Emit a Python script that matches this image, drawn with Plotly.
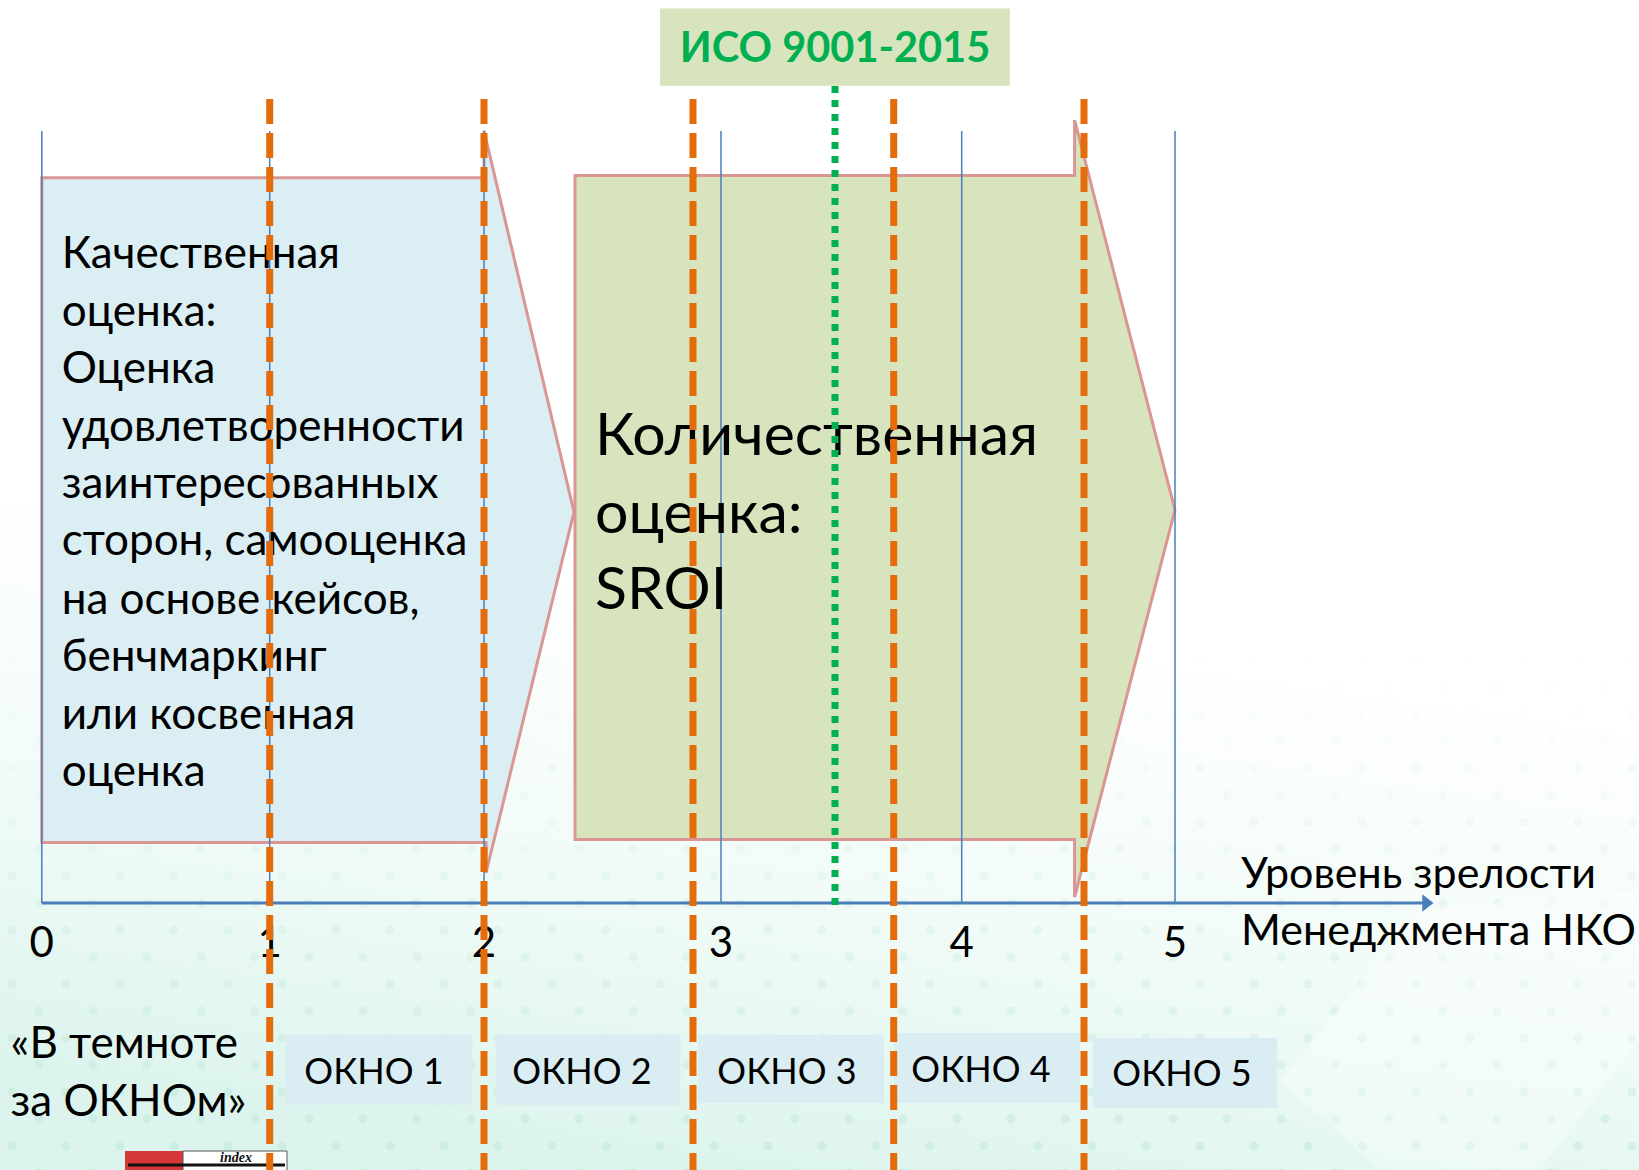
import base64
import plotly.graph_objects as go

W, H = 1639, 1170

# ---------------- content ----------------
levels = ["0", "1", "2", "3", "4", "5"]
window_labels = ["ОКНО 1", "ОКНО 2", "ОКНО 3", "ОКНО 4", "ОКНО 5"]
qual_lines = ["Качественная", "оценка:", "Оценка", "удовлетворенности",
              "заинтересованных", "сторон, самооценка", "на основе кейсов,",
              "бенчмаркинг", "или косвенная", "оценка"]
quant_lines = ["Количественная", "оценка:", "SROI"]
axis_title_lines = ["Уровень зрелости", "Менеджмента НКО"]
dark_lines = ["«В темноте", "за ОКНОм»"]
standard_label = "ИСО 9001-2015"

# ---------------- geometry (pixels) ----------------
level_x = [41.8, 269.7, 484, 721, 961.7, 1175]
axis_y = 903
level_top = 131
tick_y = 946
border_x = [269.7, 484, 693, 893.7, 1084]
iso_x = 835
window_x = [374, 582, 787, 981, 1182]
window_y = [1075, 1075, 1075, 1073, 1077]
window_boxes = [(285, 472.5, 1035, 1105), (495.5, 680.5, 1035, 1105),
                (698, 884, 1035, 1103), (893.7, 1080, 1033, 1103),
                (1093, 1277, 1038, 1108)]
qual_y = [257, 314.5, 372, 429.5, 487, 544.4, 603, 660, 718, 775.4]
quant_y = [440, 518, 594]

FONT = "Lato, 'Open Sans', sans-serif"
BLUE = "#4A7EBB"
PINK = "#D99694"
ORANGE = "#E46C0A"
GREEN = "#00B050"
LBLUE = "#DAEEF3"
LGREEN = "#D7E4BD"

# ---------------- background ----------------
svg = f"""<svg xmlns='http://www.w3.org/2000/svg' width='{W}' height='{H}' viewBox='0 0 {W} {H}'>
<defs>
<linearGradient id='g' x1='0.6' y1='0' x2='0.4' y2='1'>
<stop offset='0' stop-color='#ffffff'/>
<stop offset='0.52' stop-color='#ffffff'/>
<stop offset='0.8' stop-color='#eefaf6'/>
<stop offset='1' stop-color='#dcf4ed'/>
</linearGradient>
<linearGradient id='fade' x1='0' y1='0' x2='0' y2='1'>
<stop offset='0' stop-color='#ffffff' stop-opacity='0'/>
<stop offset='0.55' stop-color='#ffffff' stop-opacity='0'/>
<stop offset='1' stop-color='#ffffff' stop-opacity='1'/>
</linearGradient>
<mask id='mk'><rect width='{W}' height='{H}' fill='url(#fade)'/></mask>
<pattern id='dots' width='54' height='54' patternUnits='userSpaceOnUse'>
<circle cx='12' cy='12' r='4.5' fill='#b3e3d4'/>
<circle cx='39' cy='39' r='4.5' fill='#b3e3d4'/>
</pattern>
</defs>
<rect width='{W}' height='{H}' fill='url(#g)'/>
<rect width='{W}' height='{H}' fill='url(#dots)' mask='url(#mk)' opacity='0.4'/>
<polygon points='1280,1080 1420,910 1639,890 1639,1040 1540,1170 1380,1170' fill='#ffffff' opacity='0.35'/>
</svg>"""
bg_src = "data:image/svg+xml;base64," + base64.b64encode(svg.encode("utf-8")).decode("ascii")

fig = go.Figure()

shapes = []
# qualitative (blue) arrow
x0, xb, xt = level_x[0], level_x[2], 574
shapes.append(dict(type="path", layer="below",
                   path=f"M {x0},177.7 L {xb},177.7 L {xb},130.7 L {xt},512 L {xb + 2},873 L {xb + 2},842.5 L {x0},842.5 Z",
                   fillcolor=LBLUE, line=dict(color=PINK, width=3)))
# quantitative (green) arrow
gx0, gxb, gxt = 575, 1074.6, level_x[5]
shapes.append(dict(type="path", layer="below",
                   path=f"M {gx0},175.6 L {gxb},175.6 L {gxb},120 L {gxt},510 L {gxb},897 L {gxb},839.4 L {gx0},839.4 Z",
                   fillcolor=LGREEN, line=dict(color=PINK, width=3)))
# ISO label box
shapes.append(dict(type="rect", layer="below", x0=660, x1=1010, y0=8.4, y1=85.7,
                   fillcolor=LGREEN, line=dict(width=0)))
# window boxes
for (a, b, c, d) in window_boxes:
    shapes.append(dict(type="rect", layer="below", x0=a, x1=b, y0=c, y1=d,
                       fillcolor="#DAEDF2", line=dict(width=0)))
# logo
shapes.append(dict(type="rect", layer="below", x0=125, x1=183, y0=1151, y1=1171,
                   fillcolor="#D6373A", line=dict(width=0)))
shapes.append(dict(type="rect", layer="below", x0=183, x1=287, y0=1151, y1=1171,
                   fillcolor="#ffffff", line=dict(color="#555555", width=1)))
shapes.append(dict(type="line", layer="below", x0=128, x1=285, y0=1165, y1=1165,
                   line=dict(color="#111111", width=3)))

# blue level lines
vx, vy = [], []
for lx in level_x:
    vx += [lx, lx, None]
    vy += [level_top, axis_y, None]
fig.add_trace(go.Scatter(x=vx, y=vy, mode="lines", line=dict(color=BLUE, width=1.5),
                         hoverinfo="skip", showlegend=False))
# axis line + arrowhead
fig.add_trace(go.Scatter(x=[level_x[0], 1424], y=[axis_y, axis_y], mode="lines",
                         line=dict(color=BLUE, width=3), hoverinfo="skip", showlegend=False))
fig.add_trace(go.Scatter(x=[1426], y=[axis_y], mode="markers",
                         marker=dict(symbol="triangle-right", size=15, color=BLUE),
                         hoverinfo="skip", showlegend=False))

# texts
def text_trace(xs, ys, txt, size, pos, color="#000000", weight="normal"):
    fig.add_trace(go.Scatter(x=xs, y=ys, text=txt, mode="text", textposition=pos,
                             textfont=dict(family=FONT, size=size, color=color, weight=weight),
                             hoverinfo="skip", showlegend=False))

text_trace([61.7] * len(qual_lines), qual_y, qual_lines, 44, "middle right")
text_trace([595] * len(quant_lines), quant_y, quant_lines, 59, "middle right")
text_trace(level_x, [tick_y] * len(levels), levels, 42, "middle center")
text_trace([1241] * 2, [877, 934], axis_title_lines, 43, "middle right")
text_trace([10.5] * 2, [1047, 1105], dark_lines, 44, "middle right")
text_trace(window_x, window_y, window_labels, 36, "middle center")
text_trace([835], [52], [standard_label], 41.5, "middle center", color=GREEN, weight="bold")

# orange window borders
ox, oy = [], []
for bx in border_x:
    ox += [bx, bx, None]
    oy += [99, H + 5, None]
fig.add_trace(go.Scatter(x=ox, y=oy, mode="lines",
                         line=dict(color=ORANGE, width=7, dash="25px,9px"),
                         hoverinfo="skip", showlegend=False))
# ISO green dotted line
fig.add_trace(go.Scatter(x=[iso_x, iso_x], y=[86, 905], mode="lines",
                         line=dict(color=GREEN, width=7, dash="7px,7px"),
                         hoverinfo="skip", showlegend=False))

fig.add_annotation(x=236, y=1157, text="<b><i>index</i></b>", showarrow=False,
                   font=dict(family="'Liberation Serif', 'DejaVu Serif', serif", size=14, color="#111111"))

fig.update_layout(
    width=W, height=H,
    margin=dict(l=0, r=0, t=0, b=0),
    paper_bgcolor="#ffffff", plot_bgcolor="rgba(0,0,0,0)",
    xaxis=dict(range=[0, W], visible=False, fixedrange=True),
    yaxis=dict(range=[H, 0], visible=False, fixedrange=True),
    shapes=shapes,
    images=[dict(source=bg_src, xref="paper", yref="paper", x=0, y=1, sizex=1, sizey=1,
                 sizing="stretch", layer="below", xanchor="left", yanchor="top")],
    showlegend=False,
)

fig.write_html("out.html", config={"displayModeBar": False},
               post_script="document.body.style.margin='0';document.body.style.overflow='hidden';")
